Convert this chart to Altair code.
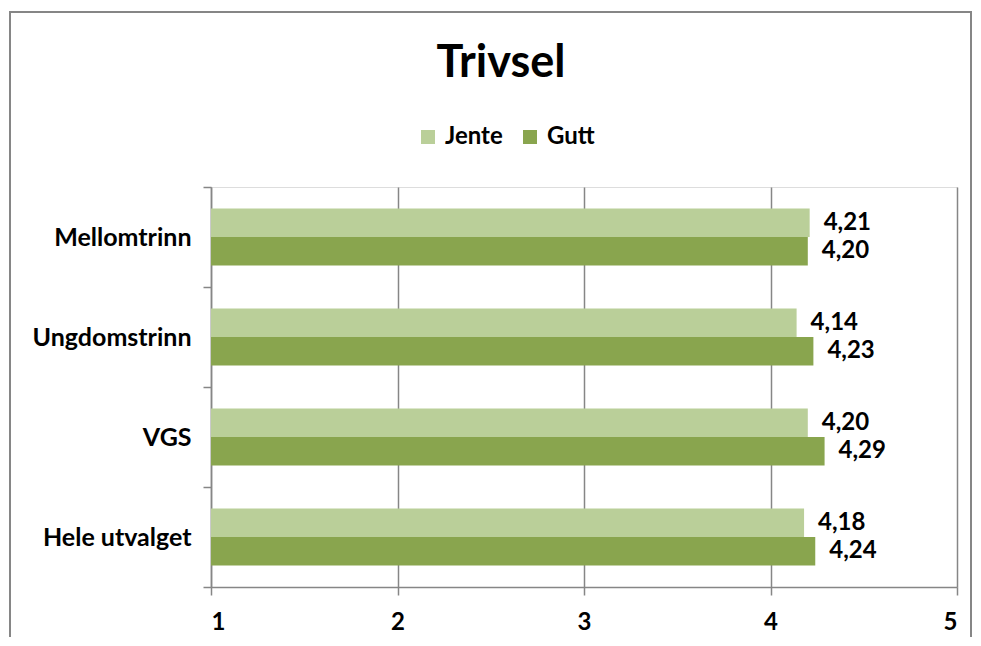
import altair as alt
import pandas as pd

categories = ["Mellomtrinn", "Ungdomstrinn", "VGS", "Hele utvalget"]
series = ["Jente", "Gutt"]
jente = [4.21, 4.14, 4.20, 4.18]
gutt = [4.20, 4.23, 4.29, 4.24]
x_ticks = [1, 2, 3, 4, 5]
title_text = "Trivsel"
colors = ["#BACF99", "#89A54E"]

rows = []
for c, j, g in zip(categories, jente, gutt):
    rows.append({"kategori": c, "serie": "Jente", "verdi": j})
    rows.append({"kategori": c, "serie": "Gutt", "verdi": g})
df = pd.DataFrame(rows)
df["etikett"] = df["verdi"].map(lambda v: f"{v:.2f}".replace(".", ","))

FONT = "Lato"
GRAY = "#868686"
FS = 24

W, H = 746, 400

x_enc = alt.X(
    "verdi:Q",
    scale=alt.Scale(domain=[1, 5], nice=False, zero=False),
    axis=alt.Axis(
        values=x_ticks, title=None, grid=True, gridColor=GRAY, gridWidth=1.5,
        domainColor=GRAY, domainWidth=1.5, tickColor=GRAY, tickWidth=1.5, tickSize=8,
        labelFont=FONT, labelFontSize=FS, labelFontWeight="bold", labelColor="black",
        labelPadding=15, format="d",
    ),
)
y_enc = alt.Y(
    "kategori:N",
    sort=categories,
    scale=alt.Scale(paddingInner=0, paddingOuter=0),
    axis=alt.Axis(
        title=None, tickBand="extent", domainColor=GRAY, domainWidth=1.5,
        tickColor=GRAY, tickWidth=1.5, tickSize=8,
        labelFont=FONT, labelFontSize=25, labelFontWeight="bold", labelColor="black",
        labelPadding=12,
    ),
)
yoff = alt.YOffset("serie:N", sort=series, scale=alt.Scale(paddingInner=0, paddingOuter=0.754))

bars = alt.Chart(df).mark_bar(size=28.5).encode(
    x=x_enc,
    x2=alt.X2(datum=1),
    y=y_enc,
    yOffset=yoff,
    color=alt.Color(
        "serie:N", sort=series,
        scale=alt.Scale(domain=series, range=colors),
        legend=alt.Legend(
            title=None, orient="none", legendX=205, legendY=-62, direction="horizontal",
            symbolType="square", symbolSize=196, symbolStrokeWidth=0,
            labelFont=FONT, labelFontSize=FS, labelFontWeight="bold", labelColor="black",
            labelOffset=5, columnPadding=15, padding=0,
        ),
    ),
)

labels = alt.Chart(df).mark_text(
    align="left", baseline="middle", dx=14, font=FONT, fontSize=FS, fontWeight="bold", color="black"
).encode(
    x=alt.X("verdi:Q"),
    y=alt.Y("kategori:N", sort=categories),
    yOffset=alt.YOffset("serie:N", sort=series),
    text="etikett:N",
)

title = alt.Chart(pd.DataFrame({"t": [title_text]})).mark_text(
    align="center", baseline="alphabetic", font=FONT, fontSize=45, fontWeight="bold", color="black"
).encode(text="t:N", x=alt.value(290), y=alt.value(-110))

frame = alt.Chart(pd.DataFrame({"t": [0]})).mark_rect(
    fill=None, stroke=GRAY, strokeWidth=2
).encode(x=alt.value(-201), x2=alt.value(760), y=alt.value(-175), y2=alt.value(480))

chart = alt.layer(frame, bars, labels, title).properties(
    width=W, height=H,
    autosize=alt.AutoSizeParams(type="none"),
    padding={"left": 203, "top": 179, "right": 15, "bottom": 50},
).configure_view(stroke=None).configure(background="white")

chart.save("out.html", embed_options={"renderer": "svg", "actions": False})
